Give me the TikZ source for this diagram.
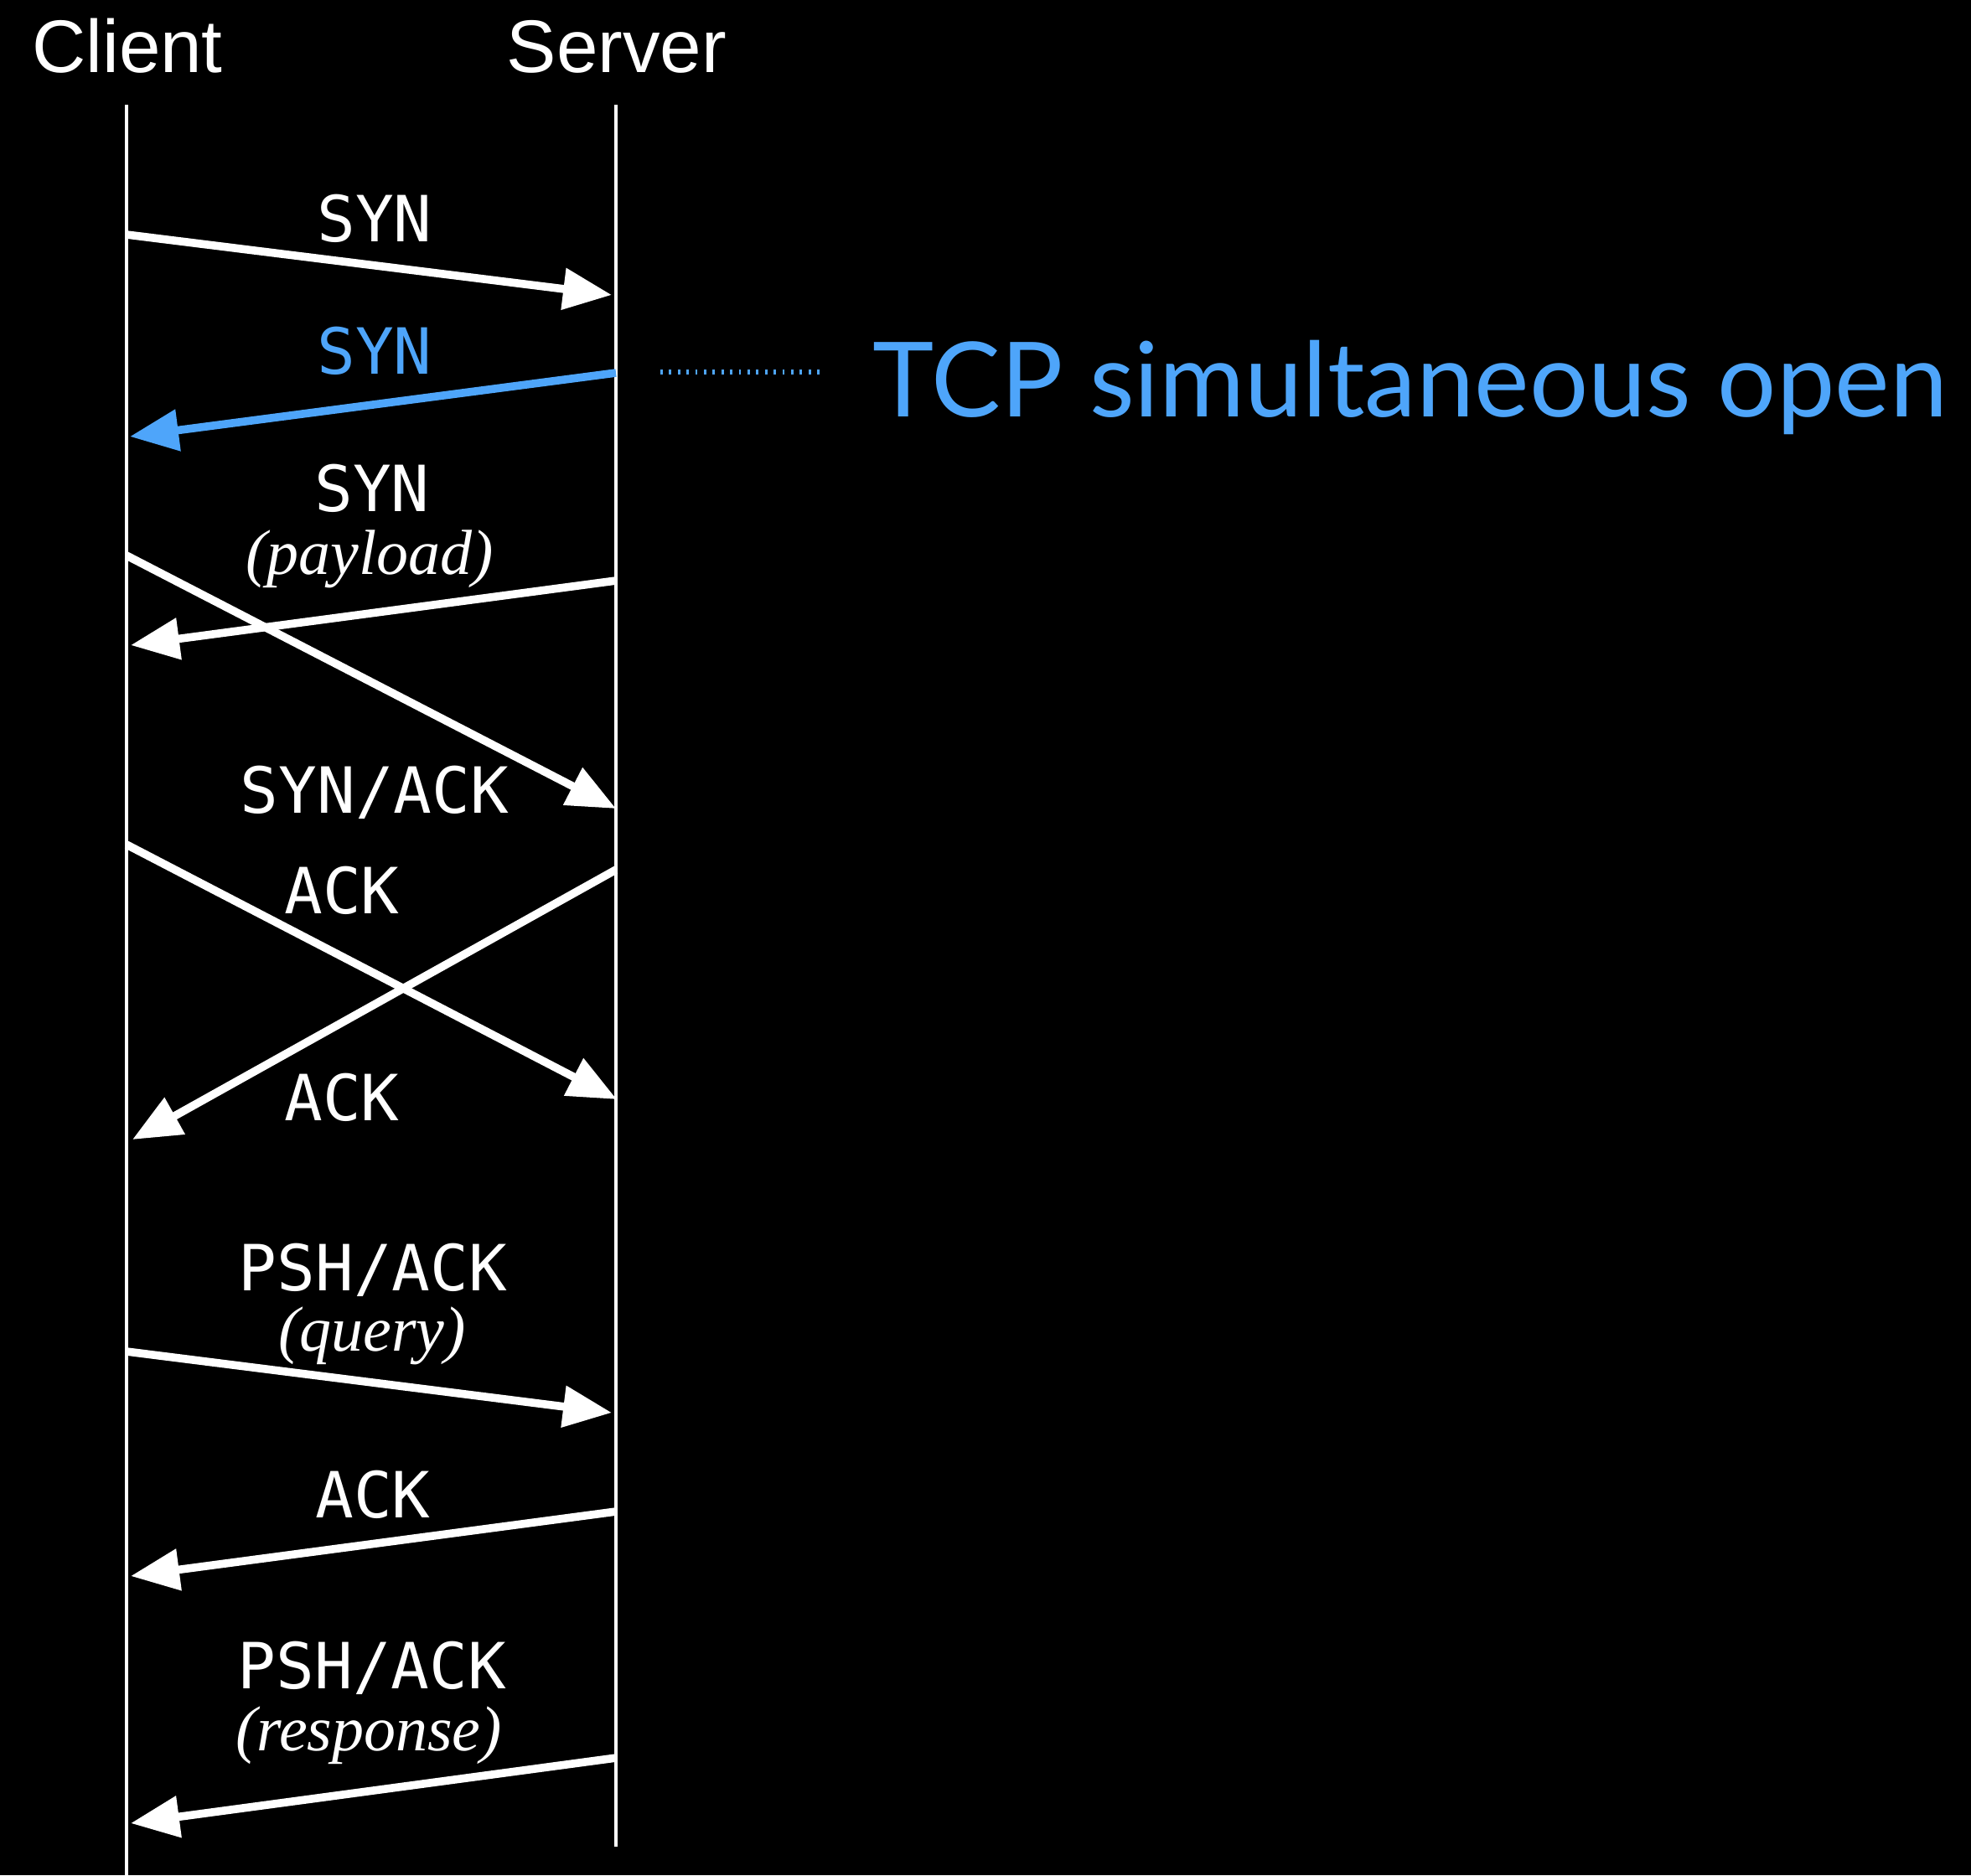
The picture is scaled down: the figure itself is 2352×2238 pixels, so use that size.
\documentclass[tikz,border=0pt]{standalone}
\usepackage{fontspec}
\usetikzlibrary{arrows.meta}
\newfontfamily\arialf{Liberation Sans}
\newfontfamily\monof{DejaVu Sans Mono}
\newfontfamily\timesf{Liberation Serif}
\newfontfamily\gillf{Lato}
\definecolor{tcpblue}{RGB}{78,165,250}
\tikzset{
  life/.style={white, line width=1.2pt},
  msg/.style={white, line width=2.4pt, -{Triangle[length=14.5pt,width=12pt]}},
  lbl/.style={white, anchor=base, inner sep=0pt, text depth=0pt, font=\monof\fontsize{19pt}{19pt}\selectfont},
  note/.style={white, anchor=base, inner sep=0pt, text height=11pt, font=\timesf\itshape\fontsize{19pt}{19pt}\selectfont},
  actor/.style={white, anchor=base, inner sep=0pt, font=\arialf\fontsize{22.25pt}{22pt}\selectfont},
}
\begin{document}
\begin{tikzpicture}[x=0.25pt,y=-0.25pt]
\fill[black] (0,0) rectangle (2352,2238);
\useasboundingbox (0,0) rectangle (2352,2238);
% actors
\node[actor] (client) at (152,86) {Client};
\node[actor] (server) at (736,86) {Server};
% lifelines
\coordinate (ctop) at (151,125);
\coordinate (cbot) at (151,2238);
\coordinate (stop) at (735,125);
\coordinate (sbot) at (735,2204);
\draw[life] (ctop) -- (cbot);
\draw[life] (stop) -- (sbot);
% message endpoints
\coordinate (a1s) at (151,280);  \coordinate (a1e) at (730,352);
\coordinate (a2s) at (735,445);  \coordinate (a2e) at (155,521);
\coordinate (a3s) at (735,693);  \coordinate (a3e) at (156,770);
\coordinate (a4s) at (151,663);  \coordinate (a4e) at (735,965);
\coordinate (a5s) at (151,1008); \coordinate (a5e) at (736,1312);
\coordinate (a6s) at (735,1038); \coordinate (a6e) at (158,1360);
\coordinate (a7s) at (151,1613); \coordinate (a7e) at (730,1686);
\coordinate (a8s) at (735,1804); \coordinate (a8e) at (156,1881);
\coordinate (a9s) at (735,2098); \coordinate (a9e) at (156,2176);
\draw[msg] (a1s) -- (a1e);
\draw[msg, tcpblue] (a2s) -- (a2e);
\draw[msg] (a3s) -- (a3e);
\draw[msg] (a4s) -- (a4e);
\draw[msg] (a5s) -- (a5e);
\draw[msg] (a6s) -- (a6e);
\draw[msg] (a7s) -- (a7e);
\draw[msg] (a8s) -- (a8e);
\draw[msg] (a9s) -- (a9e);
% labels
\node[lbl] (l1) at (447,288) {SYN};
\node[lbl, tcpblue] (l2) at (447,446) {SYN};
\node[lbl] (l3) at (444,610) {SYN};
\node[note] (l3b) at (441,685) {(payload)};
\node[lbl] (l4) at (447,970) {SYN/ACK};
\node[lbl] (l5) at (408,1090) {ACK};
\node[lbl] (l6) at (408,1337) {ACK};
\node[lbl] (l7) at (445,1540) {PSH/ACK};
\node[note] (l7b) at (444,1612) {(query)};
\node[lbl] (l8) at (445,1811) {ACK};
\node[lbl] (l9) at (444,2015) {PSH/ACK};
\node[note] (l9b) at (440,2089) {(response)};
% annotation
\node[anchor=base west, inner sep=0pt, text=tcpblue, font=\gillf\fontsize{31pt}{32pt}\selectfont] (tcp) at (1041,497) {TCP simultaneous open};
\coordinate (dots) at (788,444);
\coordinate (dote) at (985,444);
\draw[tcpblue, line width=1.4pt, dash pattern=on 0.7pt off 1.9pt] (dots) -- (dote);
\end{tikzpicture}
\end{document}
